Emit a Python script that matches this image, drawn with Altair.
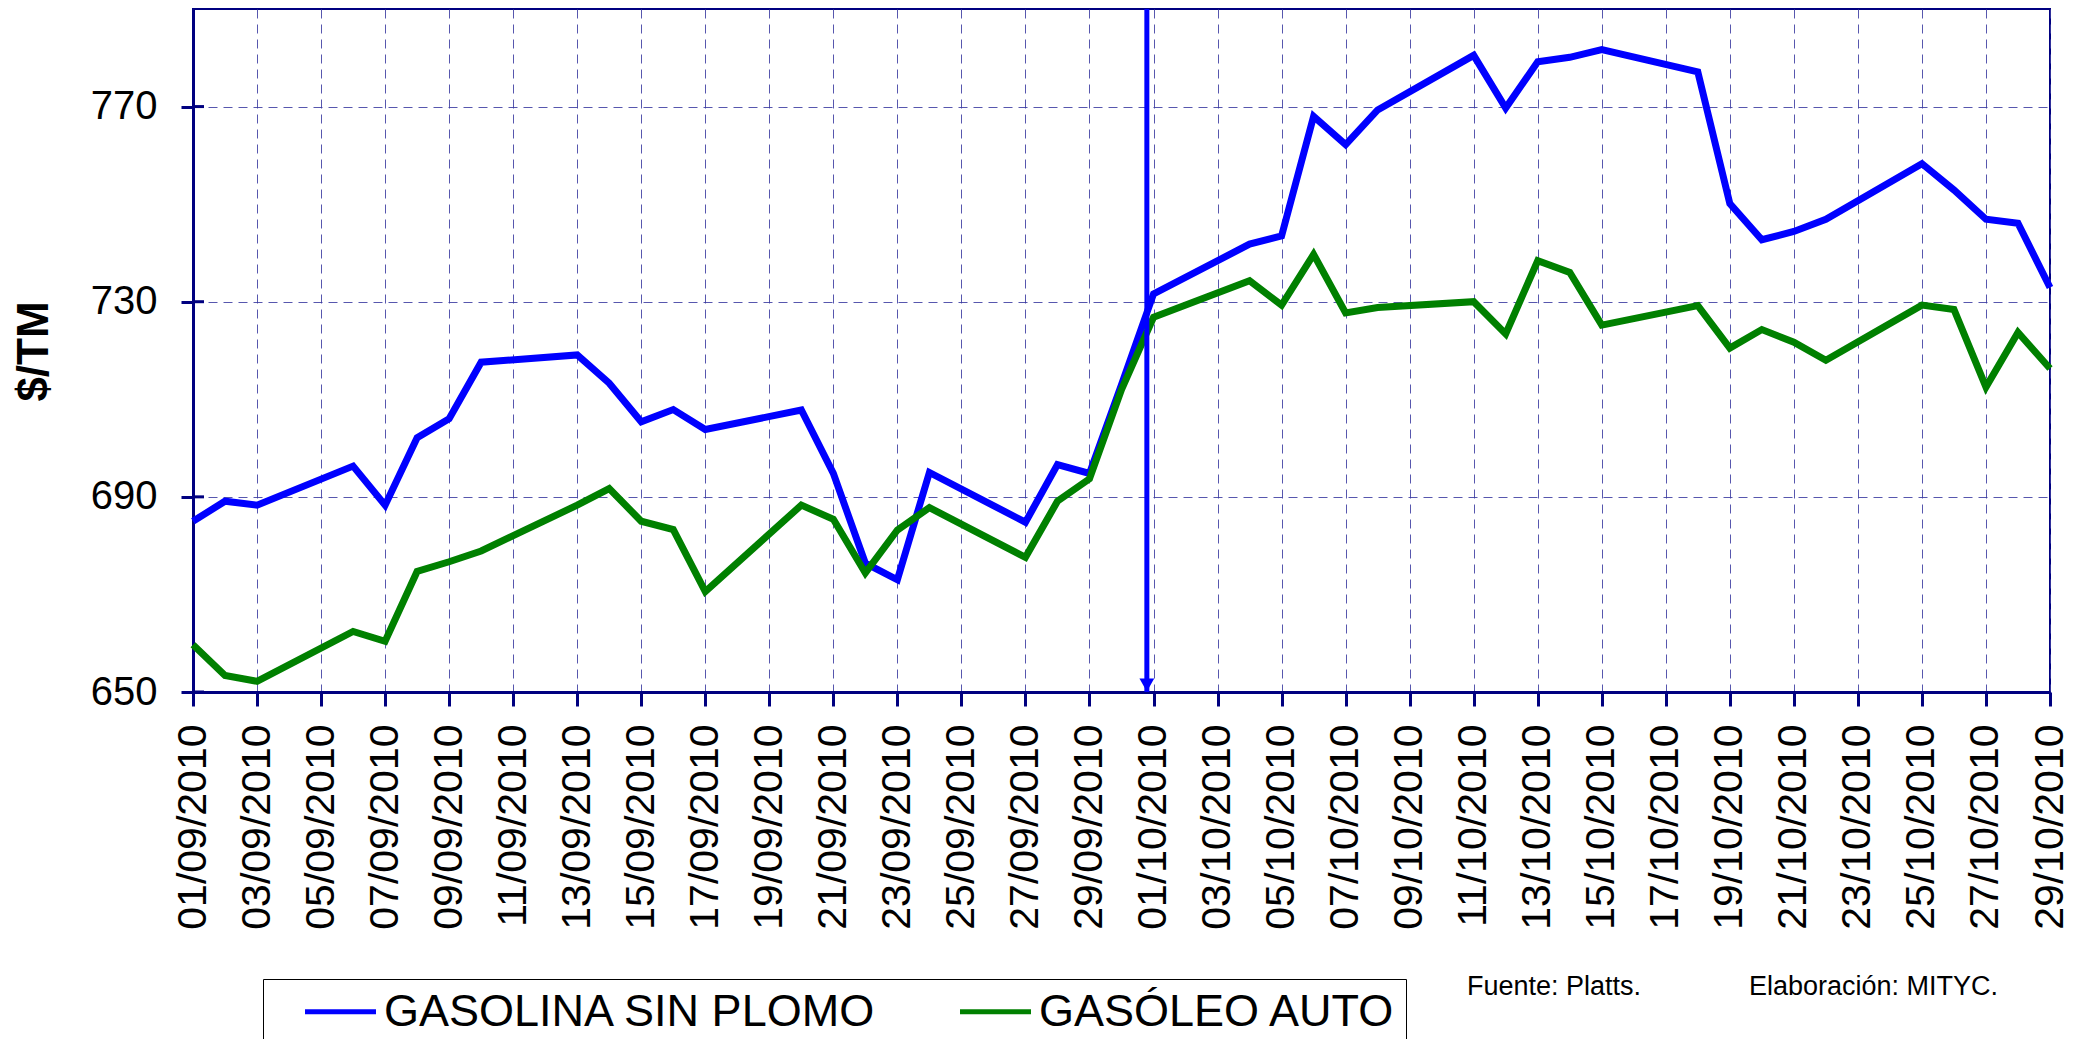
import altair as alt
import pandas as pd

# ---------------- data ----------------
dates = [
    "2010-09-01", "2010-09-02", "2010-09-03", "2010-09-06", "2010-09-07",
    "2010-09-08", "2010-09-09", "2010-09-10", "2010-09-13", "2010-09-14",
    "2010-09-15", "2010-09-16", "2010-09-17", "2010-09-20", "2010-09-21",
    "2010-09-22", "2010-09-23", "2010-09-24", "2010-09-27", "2010-09-28",
    "2010-09-29", "2010-09-30", "2010-10-01", "2010-10-04", "2010-10-05",
    "2010-10-06", "2010-10-07", "2010-10-08", "2010-10-11", "2010-10-12",
    "2010-10-13", "2010-10-14", "2010-10-15", "2010-10-18", "2010-10-19",
    "2010-10-20", "2010-10-21", "2010-10-22", "2010-10-25", "2010-10-26",
    "2010-10-27", "2010-10-28", "2010-10-29",
]
gasolina = [
    685.0, 689.1, 688.3, 696.3, 688.3,
    702.1, 706.0, 717.6, 719.1, 713.3,
    705.4, 707.9, 703.8, 707.8, 694.8,
    676.4, 673.0, 695.0, 684.8, 696.6,
    694.8, 713.0, 731.6, 741.8, 743.5,
    768.0, 762.2, 769.3, 780.5, 769.7,
    779.2, 780.1, 781.7, 777.1, 750.1,
    742.7, 744.4, 746.9, 758.3, 752.9,
    746.9, 746.1, 732.9,
]
gasoleo = [
    659.7, 653.4, 652.2, 662.4, 660.4,
    674.7, 676.7, 678.9, 688.3, 691.7,
    685.0, 683.3, 670.6, 688.3, 685.4,
    674.4, 683.2, 687.8, 677.6, 689.1,
    693.7, 712.0, 726.8, 734.3, 729.3,
    739.7, 727.7, 728.8, 730.0, 723.4,
    738.4, 736.0, 725.2, 729.2, 720.5,
    724.3, 721.7, 718.0, 729.3, 728.4,
    712.5, 723.7, 716.3,
]
series_names = ["GASOLINA SIN PLOMO", "GASÓLEO AUTO"]
series_colors = ["#0000FF", "#008000"]
tick_labels = [
    "01/09/2010", "03/09/2010", "05/09/2010", "07/09/2010", "09/09/2010",
    "11/09/2010", "13/09/2010", "15/09/2010", "17/09/2010", "19/09/2010",
    "21/09/2010", "23/09/2010", "25/09/2010", "27/09/2010", "29/09/2010",
    "01/10/2010", "03/10/2010", "05/10/2010", "07/10/2010", "09/10/2010",
    "11/10/2010", "13/10/2010", "15/10/2010", "17/10/2010", "19/10/2010",
    "21/10/2010", "23/10/2010", "25/10/2010", "27/10/2010", "29/10/2010",
]
y_ticks = [650, 690, 730, 770]
y_domain = [650, 790]
arrow_date = ["2010-09-30T19:00:00Z"]
notes = ["Fuente: Platts.", "Elaboración: MITYC."]
y_title = "$/TM"

FONT = "Liberation Sans"
NAVY = "#000080"


def to_dt(label):
    d, m, y = label.split("/")
    return alt.DateTime(year=int(y), month=int(m), date=int(d), utc=True)


tick_dt = [to_dt(l) for l in tick_labels]

df = pd.DataFrame(
    {
        "date": dates + dates,
        "value": gasolina + gasoleo,
        "serie": [series_names[0]] * len(dates) + [series_names[1]] * len(dates),
    }
)

x_enc = alt.X(
    "date:T",
    scale=alt.Scale(type="utc", domain=[tick_dt[0], tick_dt[-1]], nice=False),
    axis=alt.Axis(
        values=tick_dt,
        format="%d/%m/%Y",
        labelAngle=270,
        title=None,
        tickSize=14,
        labelPadding=18,
        labelFontSize=41,
        labelLimit=400,
        grid=True,
        labelOverlap=False,
    ),
)

y_scale = alt.Scale(domain=y_domain, nice=False, zero=False)

lines = (
    alt.Chart(df)
    .mark_line(strokeWidth=7, strokeJoin="miter")
    .encode(
        x=x_enc,
        y=alt.Y(
            "value:Q",
            scale=y_scale,
            axis=alt.Axis(
                values=y_ticks,
                title=y_title,
                titleFont=FONT,
                titleFontSize=44,
                titleFontWeight="bold",
                titleColor="black",
                titleAngle=270,
                titleX=-159,
                titleY=342,
                titleBaseline="middle",
                titleAlign="center",
                tickSize=12,
                labelPadding=24,
                labelFontSize=40,
                grid=True,
            ),
        ),
        color=alt.Color(
            "serie:N",
            scale=alt.Scale(domain=series_names, range=series_colors),
            sort=series_names,
            legend=alt.Legend(
                title=None,
                orient="none",
                legendX=70,
                legendY=970,
                direction="horizontal",
                symbolType="M-2,0H2",
                symbolSize=1260,
                symbolStrokeWidth=5,
                labelFont=FONT,
                labelFontSize=45,
                labelColor="black",
                labelOffset=21,
                columnPadding=51,
                symbolOffset=45,
                padding=10,
                strokeColor="black",
                fillColor="white",
                labelLimit=1000,
            ),
        ),
        order=alt.Order("serie:N", sort="descending"),
    )
)

# inner half of the y-axis ticks (the reference's ticks cross the axis)
inner_ticks = (
    alt.Chart(pd.DataFrame({"v": y_ticks}))
    .mark_rule(color=NAVY, strokeWidth=3)
    .encode(x=alt.value(0), x2=alt.value(11), y=alt.Y("v:Q", scale=y_scale))
)

df_arrow = pd.DataFrame({"date": arrow_date, "top": [y_domain[1]], "bottom": [y_domain[0]]})
arrow_line = alt.Chart(df_arrow).mark_rule(color="#0000FF", strokeWidth=5).encode(
    x="date:T", y="top:Q", y2="bottom:Q"
)
arrow_head = alt.Chart(df_arrow).mark_point(
    shape="triangle-down", filled=True, size=220, color="#0000FF", opacity=1, yOffset=-7
).encode(x="date:T", y="bottom:Q")

note_layers = []
note_x = [1274, 1556]
for txt, nx in zip(notes, note_x):
    note_layers.append(
        alt.Chart(pd.DataFrame({"t": [txt]}))
        .mark_text(align="left", baseline="alphabetic", font=FONT, fontSize=27, color="black")
        .encode(x=alt.value(nx), y=alt.value(986), text="t:N")
    )

chart = (
    alt.layer(lines, inner_ticks, arrow_line, arrow_head, *note_layers)
    .properties(
        width=1857,
        height=683,
        autosize=alt.AutoSizeParams(type="none"),
        padding={"left": 185, "top": 1, "right": 20, "bottom": 370},
        background="white",
    )
    .configure_view(stroke=NAVY, strokeWidth=2)
    .configure_axis(
        domainColor=NAVY,
        domainWidth=3,
        tickColor=NAVY,
        tickWidth=3,
        gridColor="#3a3aa0",
        gridDash=[9, 6],
        gridWidth=1,
        gridOpacity=0.85,
        labelFont=FONT,
        labelColor="black",
    )
)

chart.save("out.html", embed_options={"renderer": "svg", "actions": False})
